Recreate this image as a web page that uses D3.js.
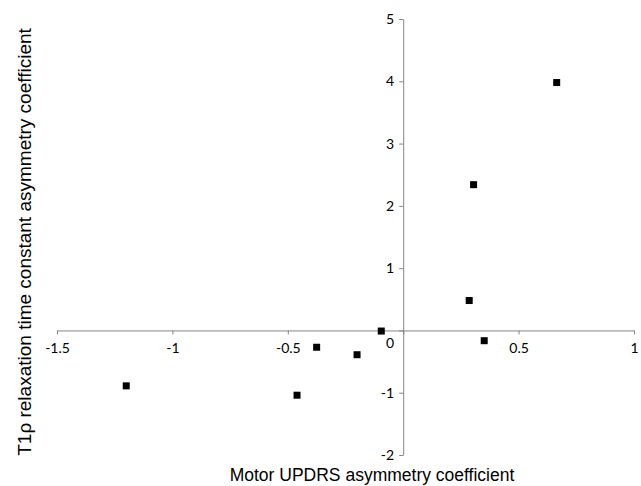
<!DOCTYPE html>
<html>
<head>
<meta charset="utf-8">
<script src="https://cdn.jsdelivr.net/npm/d3@7"></script>
<style>
  body { margin: 0; background: #fff; }
  .axis text { font-family: Lato, "Liberation Sans", Arial, sans-serif; font-size: 14px; fill: #000; }
  .axis path, .axis line { stroke: #868686; }
</style>
</head>
<body>
<svg id="chart" width="641" height="486"></svg>
<script>
// Motor UPDRS asymmetry (x) vs T1rho asymmetry (y)
const motorUPDRS = [-1.2, -0.46, -0.375, -0.2, -0.095, 0.286, 0.305, 0.351, 0.665]
const t1rho = [-0.89, -1.04, -0.27, -0.39, -0.01, 0.48, 2.34, -0.165, 3.98]
const xTicks = [-1.5, -1, -0.5, 0, 0.5, 1]
const yTicks = [-2, -1, 0, 1, 2, 3, 4, 5]

const svg = d3.select('#chart')

const xScale = d3.scaleLinear().domain([-1.5, 1]).range([57, 634])
const yScale = d3.scaleLinear().domain([-2, 5]).range([455, 19])

// x axis crosses at y = 0
const xAxis = svg.append('g')
    .attr('class', 'x axis')
    .attr('transform', 'translate(0,' + yScale(0) + ')')
    .call(d3.axisBottom(xScale).tickValues(xTicks).tickSizeInner(4).tickSizeOuter(0)
        .tickFormat(d => d === 0 ? '' : String(d)))
xAxis.selectAll('.tick text').attr('dy', '0.9em').attr('y', 10)

// y axis crosses at x = 0
const yAxis = svg.append('g')
    .attr('class', 'y axis')
    .attr('transform', 'translate(' + xScale(0) + ',0)')
    .call(d3.axisLeft(yScale).tickValues(yTicks).tickSizeInner(4).tickSizeOuter(0)
        .tickFormat(d => String(d)))
yAxis.selectAll('.tick text').attr('x', -9)
yAxis.selectAll('.tick text').filter(d => d === 0).attr('dy', '1.2em')

svg.selectAll('.point')
    .data(motorUPDRS)
    .enter()
    .append('rect')
    .attr('class', 'point')
    .attr('x', d => xScale(d) - 3.5)
    .attr('y', (d, i) => yScale(t1rho[i]) - 3.5)
    .attr('width', 7)
    .attr('height', 7)
    .attr('fill', '#000')

svg.append('text')
    .text('Motor UPDRS asymmetry coefficient')
    .attr('font-family', '"Liberation Sans", Arial, sans-serif')
    .attr('font-size', 17.5)
    .attr('text-anchor', 'middle')
    .attr('transform', 'translate(372,481)')

svg.append('text')
    .text('T1\u03c1 relaxation time constant asymmetry coefficient')
    .attr('font-family', '"Liberation Sans", Arial, sans-serif')
    .attr('font-size', 19)
    .attr('text-anchor', 'middle')
    .attr('transform', 'translate(31,242) rotate(-90)')
</script>
</body>
</html>
